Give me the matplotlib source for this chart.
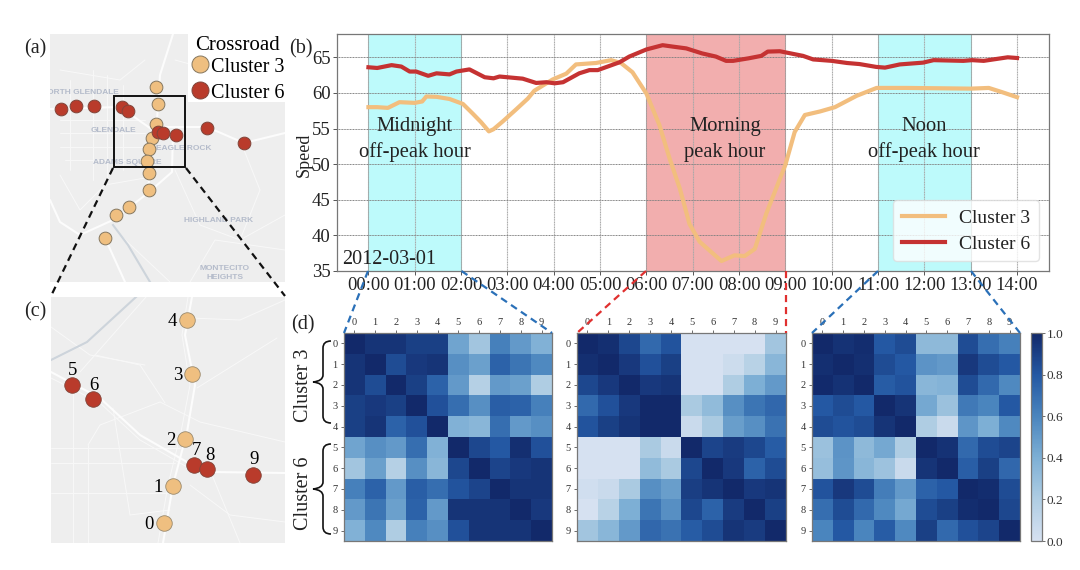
import numpy as np
import matplotlib
matplotlib.use("Agg")
import matplotlib.pyplot as plt
from matplotlib.colors import LinearSegmentedColormap
from matplotlib.path import Path
from matplotlib.patches import PathPatch, Rectangle

plt.rcParams['font.family'] = ['Liberation Serif', 'DejaVu Serif']

W, H = 1080, 570

# ---- (b) speed series
hours_c3 = [0, .19, .42, .67, 1.0, 1.16, 1.25, 1.47, 1.75, 2.04, 2.25, 2.43, 2.6, 2.7, 2.9, 3.19, 3.44, 3.58,
            3.98, 4.27, 4.48, 4.91, 5.24, 5.45, 5.7, 6.0, 6.28, 6.5, 6.72, 6.93, 7.15, 7.62, 7.9, 8.12, 8.34,
            8.59, 9.0, 9.2, 9.42, 9.75, 10.07, 10.54, 10.97, 11.61, 12.34, 13.0, 13.39, 13.68, 14.0]
speed_c3 = [58.0, 58.0, 57.9, 58.7, 58.6, 58.8, 59.5, 59.45, 59.15, 58.45, 57.1, 55.9, 54.6, 54.9, 56.0, 57.7, 59.2, 60.3,
            61.9, 62.7, 64.0, 64.2, 64.6, 64.2, 62.9, 59.9, 55.5, 50.8, 46.6, 41.6, 39.1, 36.4, 37.2, 37.1, 38.1,
            43.1, 49.9, 54.5, 56.9, 57.4, 58.0, 59.6, 60.7, 60.7, 60.65, 60.6, 60.7, 60.1, 59.4]
hours_c6 = [0, .19, .5, .71, .89, 1.03, 1.29, 1.47, 1.75, 1.9, 2.18, 2.51, 2.7, 2.83, 3.33, 3.62, 3.84, 4.02, 4.2,
            4.55, 4.77, 4.95, 5.42, 5.63, 6.0, 6.35, 6.57, 6.86, 7.2, 7.5, 7.72, 7.87, 8.2, 8.48, 8.62, 8.88,
            9.38, 9.6, 10.0, 10.33, 10.6, 10.96, 11.15, 11.47, 11.97, 12.2, 12.84, 13.03, 13.28, 13.8, 14.0]
speed_c6 = [63.6, 63.5, 63.9, 63.7, 63.0, 63.0, 62.4, 62.75, 62.6, 63.0, 63.3, 62.2, 62.05, 62.3, 62.0, 61.4, 61.5, 61.35, 61.5,
            62.75, 63.2, 63.2, 64.3, 65.1, 66.1, 66.7, 66.5, 66.25, 65.55, 65.1, 64.5, 64.5, 64.85, 65.2, 65.8, 65.85,
            65.2, 64.7, 64.5, 64.2, 64.05, 63.65, 63.55, 64.0, 64.25, 64.6, 64.5, 64.6, 64.5, 65.0, 64.9]
hour_ticks = list(range(15))
hour_labels = ['00:00', '01:00', '02:00', '03:00', '04:00', '05:00', '06:00', '07:00',
               '08:00', '09:00', '10:00', '11:00', '12:00', '13:00', '14:00']
speed_ticks = [35, 40, 45, 50, 55, 60, 65]
offpeak_spans = [(0, 2), (11, 13)]
peak_spans = [(6, 9)]

# ---- (d) correlation matrices
corr_midnight = [
    [1.0, .95, .95, .90, .90, .45, .25, .62, .50, .38],
    [.95, 1.0, .85, .93, .95, .55, .47, .75, .67, .58],
    [.95, .85, 1.0, .90, .75, .50, .17, .50, .47, .20],
    [.90, .93, .90, 1.0, .83, .70, .55, .77, .75, .62],
    [.90, .95, .75, .83, 1.0, .38, .35, .70, .50, .55],
    [.45, .55, .50, .70, .38, 1.0, .87, .80, .97, .83],
    [.25, .47, .17, .55, .35, .87, 1.0, .88, .93, .95],
    [.62, .75, .50, .77, .70, .82, .88, 1.0, .95, .95],
    [.50, .67, .47, .75, .50, .95, .95, .95, 1.0, .93],
    [.38, .58, .20, .62, .55, .83, .95, .95, .95, 1.0]]
corr_morning = [
    [1.0, .97, .87, .72, .82, .00, .00, .00, .00, .25],
    [.97, 1.0, .93, .83, .90, .00, .00, .05, .15, .35],
    [.87, .93, 1.0, .93, .95, .00, .00, .20, .40, .50],
    [.72, .83, .93, 1.0, 1.0, .22, .32, .55, .67, .73],
    [.82, .90, .95, 1.0, 1.0, .07, .22, .48, .55, .68],
    [.00, .00, .00, .22, .07, 1.0, .88, .92, .87, .78],
    [.00, .00, .00, .32, .22, .87, 1.0, .93, .75, .85],
    [.03, .07, .22, .55, .48, .91, .95, 1.0, .93, .95],
    [.00, .15, .40, .67, .55, .87, .75, .92, 1.0, .90],
    [.25, .35, .50, .73, .68, .78, .85, .95, .92, 1.0]]
corr_noon = [
    [1.0, .96, .98, .80, .85, .33, .33, .85, .70, .62],
    [.97, 1.0, .97, .85, .80, .53, .50, .93, .85, .80],
    [.99, .96, 1.0, .78, .82, .35, .37, .85, .72, .58],
    [.80, .85, .80, 1.0, .95, .43, .28, .65, .60, .80],
    [.85, .82, .85, .95, 1.0, .20, .07, .52, .40, .58],
    [.28, .53, .33, .43, .20, 1.0, .96, .72, .85, .88],
    [.30, .52, .35, .27, .07, .95, 1.0, .77, .90, .73],
    [.82, .93, .85, .63, .50, .75, .80, 1.0, .98, .85],
    [.70, .85, .72, .58, .43, .85, .90, .98, 1.0, .87],
    [.60, .80, .60, .78, .58, .90, .72, .83, .88, 1.0]]
node_labels = list(range(10))
cbar_ticks = [0.0, 0.2, 0.4, 0.6, 0.8, 1.0]

# ---- (a), (c) crossroads in map coordinates
a_c3_x = [156, 158, 156, 152, 149, 147, 149, 149, 129, 116, 105]
a_c3_y = [87, 104, 124, 138, 149, 161, 173, 190, 207, 215, 238]
a_c6_x = [61, 76, 94, 122, 128, 158, 163, 176, 207, 244]
a_c6_y = [109, 106, 106, 107, 111, 132, 133, 135, 128, 143]
c_c3_x = [164, 173, 185, 192, 187]
c_c3_y = [523, 486, 439, 374, 320]
c_c3_names = ['0', '1', '2', '3', '4']
c_c6_x = [72, 93, 194, 207, 253]
c_c6_y = [385, 399, 465, 469, 475]
c_c6_names = ['5', '6', '7', '8', '9']

# map background drawing: white roads in map coordinates
roads_a_major = [
    [(173, 34), (160, 75), (157, 120), (150, 165), (148, 193), (113, 220), (80, 235), (60, 222), (50, 200)],
    [(160, 127), (207, 127), (244, 143), (285, 133)],
    [(50, 109), (120, 107), (157, 133)],
    [(148, 193), (172, 172), (173, 130)],
    [(105, 238), (125, 282)],
]
roads_a_minor = [
    [(70, 80), (70, 170)], [(93, 70), (93, 180)], [(107, 75), (107, 180)], [(123, 85), (123, 170)],
    [(60, 120), (145, 120)], [(60, 133), (145, 133)], [(60, 147), (145, 147)], [(65, 160), (145, 160)],
    [(175, 170), (200, 225), (240, 240), (285, 215)], [(190, 282), (215, 240), (285, 250)],
    [(175, 60), (285, 90)], [(240, 140), (260, 190), (240, 240)], [(120, 235), (170, 282)],
    [(60, 175), (80, 210), (105, 185), (145, 178)], [(145, 60), (120, 80), (60, 70)],
]
river_a = [(113, 225), (128, 245), (150, 282)]
roads_c_major = [
    [(192, 297), (185, 335), (195, 385), (187, 432), (173, 485), (163, 543)],
    [(51, 372), (100, 398), (140, 435), (187, 462), (213, 472), (285, 473)],
]
roads_c_minor = [
    [(188, 297), (182, 335), (190, 385), (181, 432), (168, 485), (158, 543)],
    [(51, 378), (100, 403), (140, 440), (187, 467)],
    [(80, 372), (146, 297)], [(51, 448), (180, 448)], [(51, 463), (175, 463)], [(51, 493), (170, 493)],
    [(73, 385), (73, 543)], [(88, 445), (88, 543)], [(160, 402), (200, 422), (285, 442)],
    [(113, 408), (130, 515)], [(197, 388), (277, 338)], [(88, 445), (100, 425), (160, 402)],
    [(190, 485), (230, 515), (285, 522)], [(95, 355), (140, 365), (165, 403)], [(51, 327), (90, 355), (145, 365)],
    [(190, 318), (240, 320), (285, 300)], [(210, 470), (240, 543)], [(130, 515), (170, 510)],
]
river_c = [(51, 360), (87, 342), (136, 297)]

map_labels_a = ['NORTH GLENDALE', 'GLENDALE', 'ADAMS SQUARE', 'EAGLE ROCK', 'HIGHLAND PARK', 'MONTECITO\nHEIGHTS']
map_labels_a_x = [80, 113, 127, 184, 219, 225]
map_labels_a_y = [93, 130, 162, 148, 221, 273]

ORANGE, RED = '#EFBF80', '#B93B2B'
LINE_ORANGE, LINE_RED = '#F2BE7E', '#C53232'
BLUE_DASH, RED_DASH = '#2A70B8', '#E0302F'


def px_axes(l, t, r, b, **kw):
    ax = fig.add_axes([l / W, 1 - b / H, (r - l) / W, (b - t) / H], **kw)
    return ax


fig = plt.figure(figsize=(W / 100, H / 100), dpi=100, facecolor='white')


def draw_map(l, t, r, b, major, minor, river):
    ax = px_axes(l, t, r, b)
    ax.set_facecolor('#EEEEEE')
    ax.set_xlim(l, r)
    ax.set_ylim(b, t)
    ax.set_xticks([])
    ax.set_yticks([])
    for s in ax.spines.values():
        s.set_visible(False)
    for road in minor:
        xs, ys = zip(*road)
        ax.plot(xs, ys, color='#F8F8F8', lw=0.7, solid_capstyle='round', zorder=1)
    for road in major:
        xs, ys = zip(*road)
        ax.plot(xs, ys, color='#FCFCFC', lw=1.5, solid_capstyle='round', zorder=2)
    xs, ys = zip(*river)
    ax.plot(xs, ys, color='#CDD4DB', lw=1.5, zorder=2)
    return ax


# ---------- (a)
ax_a = draw_map(50, 34, 285, 282, roads_a_major, roads_a_minor, river_a)
for name, x, y in zip(map_labels_a, map_labels_a_x, map_labels_a_y):
    ax_a.text(x, y, name, color='#B5BCCB', fontsize=6, fontweight='bold', family=['Liberation Sans'],
              ha='center', va='center', zorder=3, clip_on=True, linespacing=1.3)
ax_a.add_patch(Rectangle((188, 34), 97, 68, facecolor='white', edgecolor='none', zorder=3))
ax_a.scatter(a_c3_x, a_c3_y, s=84, color=ORANGE, edgecolor='#85775F', linewidth=0.7, zorder=4)
ax_a.scatter(a_c6_x, a_c6_y, s=84, color=RED, edgecolor='#80453A', linewidth=0.7, zorder=5)
ax_a.add_patch(Rectangle((113.5, 96), 71.5, 71, facecolor='none', edgecolor='#111111', lw=1.4, zorder=6))
ax_a.scatter([200], [64], s=150, color=ORANGE, edgecolor='#85775F', linewidth=0.7, zorder=6)
ax_a.scatter([200], [90], s=150, color=RED, edgecolor='#80453A', linewidth=0.7, zorder=6)
ax_a.text(238, 45, 'Crossroad', fontsize=15, ha='center', va='center', zorder=7)
ax_a.text(211, 67, 'Cluster 3', fontsize=14.5, ha='left', va='center', zorder=7)
ax_a.text(211, 93, 'Cluster 6', fontsize=14.5, ha='left', va='center', zorder=7)

# ---------- (c)
ax_c = draw_map(51, 297, 285, 543, roads_c_major, roads_c_minor, river_c)
ax_c.scatter(c_c3_x, c_c3_y, s=125, color=ORANGE, edgecolor='#9A8A6E', linewidth=0.6, zorder=4)
ax_c.scatter(c_c6_x, c_c6_y, s=125, color=RED, edgecolor='#80453A', linewidth=0.6, zorder=5)
for name, x, y in zip(c_c3_names, c_c3_x, c_c3_y):
    ax_c.annotate(name, (x, y), xytext=(-10.5, -1), textcoords='offset points', fontsize=13.5,
                  ha='center', va='center', zorder=6)
for name, x, y, up in zip(c_c6_names, c_c6_x, c_c6_y, [10.5, 9.5, 10.5, 9.5, 11]):
    ax_c.annotate(name, (x, y), xytext=(2 if name in '78' else 0.5, up), textcoords='offset points', fontsize=13.5,
                  ha='center', va='center', zorder=6)

# ---------- (b)
ax_b = px_axes(336.7, 34.5, 1049, 271)
ax_b.set_xlim(-0.685, 14.69)
ax_b.set_ylim(35, 68.2)
for a, b in offpeak_spans:
    ax_b.axvspan(a, b, facecolor='#BDFAFB', edgecolor='#8FB8B8', lw=0.7, zorder=0)
for a, b in peak_spans:
    ax_b.axvspan(a, b, facecolor='#F2AEAE', edgecolor='#B88888', lw=0.7, zorder=0)
ax_b.grid(True, axis='x', color='#A8A8A8', lw=0.8, ls=(0, (1, 0.5)), zorder=1)
ax_b.grid(True, axis='y', color='#808080', lw=0.7, ls=(0, (1, 0.6)), zorder=1)
ax_b.set_axisbelow(True)
ax_b.plot(hours_c3, speed_c3, color=LINE_ORANGE, lw=3, label='Cluster 3', zorder=3)
ax_b.plot(hours_c6, speed_c6, color=LINE_RED, lw=3, label='Cluster 6', zorder=4)
ax_b.set_xticks(hour_ticks)
ax_b.set_xticklabels(hour_labels, fontsize=13.3, color='#222222')
ax_b.set_yticks(speed_ticks)
ax_b.set_yticklabels([str(v) for v in speed_ticks], fontsize=13.5, color='#222222')
ax_b.tick_params(axis='x', length=3, width=0.7, color='#555555', pad=1)
ax_b.tick_params(axis='y', length=3, width=0.7, color='#555555', pad=1.5)
for s in ax_b.spines.values():
    s.set_color('#777777')
    s.set_linewidth(0.9)
for x, top, bottom in [(1, 'Midnight', 'off-peak hour'), (7.7, 'Morning', 'peak hour'), (12, 'Noon', 'off-peak hour')]:
    ax_b.text(x, 55.3, top, fontsize=14.8, ha='center', va='center', color='#222222', zorder=5)
    ax_b.text(x, 51.7, bottom, fontsize=14.8, ha='center', va='center', color='#222222', zorder=5)
ax_b.text(-0.57, 36.6, '2012-03-01', fontsize=14.5, ha='left', va='center', color='#222222', zorder=5)
leg = ax_b.legend(loc='lower right', fontsize=14, handlelength=2.2, handletextpad=0.75, labelspacing=0.42,
                  borderaxespad=0.5, framealpha=0.8, edgecolor='#DDDDDD', fancybox=True, borderpad=0.45)
for t in leg.get_texts():
    t.set_color('#222222')

# ---------- (d)
cmap = LinearSegmentedColormap.from_list('corr', ['#D6E1F1', '#AFCDE3', '#7DAFD5', '#4A85BE', '#2458A3', '#12296A'])
heat_boxes = [(344, 552), (577, 786), (812, 1020)]
matrices = [corr_midnight, corr_morning, corr_noon]
for (l, r), m in zip(heat_boxes, matrices):
    ax = px_axes(l, 333, r, 541)
    im = ax.imshow(np.array(m), cmap=cmap, vmin=0, vmax=1, aspect='auto', interpolation='nearest')
    ax.xaxis.tick_top()
    ax.set_xticks(node_labels)
    ax.set_yticks(node_labels)
    ax.set_xticklabels(node_labels, fontsize=7.5, color='#333333')
    ax.set_yticklabels(node_labels, fontsize=7.5, color='#333333')
    ax.tick_params(length=2.5, width=0.6, color='#555555', pad=2)
    for s in ax.spines.values():
        s.set_color('#777777')
        s.set_linewidth(0.9)
cax = px_axes(1031, 333, 1042, 541)
cb = fig.colorbar(im, cax=cax)
cb.set_ticks(cbar_ticks)
cb.ax.set_yticklabels([f'{v:.1f}' for v in cbar_ticks], fontsize=9.5, color='#333333')
cb.ax.tick_params(length=2.5, width=0.6, color='#555555', pad=1)
cb.outline.set_edgecolor('#777777')
cb.outline.set_linewidth(0.9)

# ---------- overlay: connectors, braces, panel letters
ov = fig.add_axes([0, 0, 1, 1], zorder=20)
ov.set_xlim(0, W)
ov.set_ylim(H, 0)
ov.axis('off')
ov.patch.set_alpha(0)
dash = (0, (3.2, 2.2))
connectors = [
    (113, 168, 51, 296, '#111111'), (186, 168, 285, 296, '#111111'),
    (368, 271, 344, 333, BLUE_DASH), (461.5, 271, 552, 333, BLUE_DASH),
    (646, 271, 577, 333, RED_DASH), (786, 271, 786, 333, RED_DASH),
    (878, 271, 812, 333, BLUE_DASH), (971, 271, 1020, 333, BLUE_DASH),
]
for x0, y0, x1, y1, c in connectors:
    ov.plot([x0, x1], [y0, y1], color=c, lw=1.6, ls=dash)


def brace(x_tip, x_end, y0, y1):
    ym = (y0 + y1) / 2
    xm = (x_tip + x_end) / 2 + 1
    verts = [(x_end, y0), (xm, y0), (xm, y0 + 7), (xm, ym - 7), (xm, ym - 1), (x_tip, ym),
             (xm, ym + 1), (xm, ym + 7), (xm, y1 - 7), (xm, y1), (x_end, y1)]
    codes = [Path.MOVETO, Path.CURVE3, Path.CURVE3, Path.LINETO, Path.CURVE3, Path.CURVE3,
             Path.CURVE3, Path.CURVE3, Path.LINETO, Path.CURVE3, Path.CURVE3]
    ov.add_patch(PathPatch(Path(verts, codes), facecolor='none', edgecolor='#111111', lw=1.2))


brace(313, 331, 341, 423)
brace(313, 331, 444, 534)
ov.text(303, 385, 'Cluster 3', fontsize=14.5, rotation=90, ha='center', va='center', color='#222222')
ov.text(303, 493, 'Cluster 6', fontsize=14.5, rotation=90, ha='center', va='center', color='#222222')
ov.text(304, 155, 'Speed', fontsize=13, rotation=90, ha='center', va='center', color='#222222')
for s, x, y in [('(a)', 24, 49), ('(b)', 289, 49), ('(c)', 24, 312), ('(d)', 291, 325)]:
    ov.text(x, y, s, fontsize=14.5, ha='left', va='center', color='#222222')

fig.savefig('out.png', dpi=100)
